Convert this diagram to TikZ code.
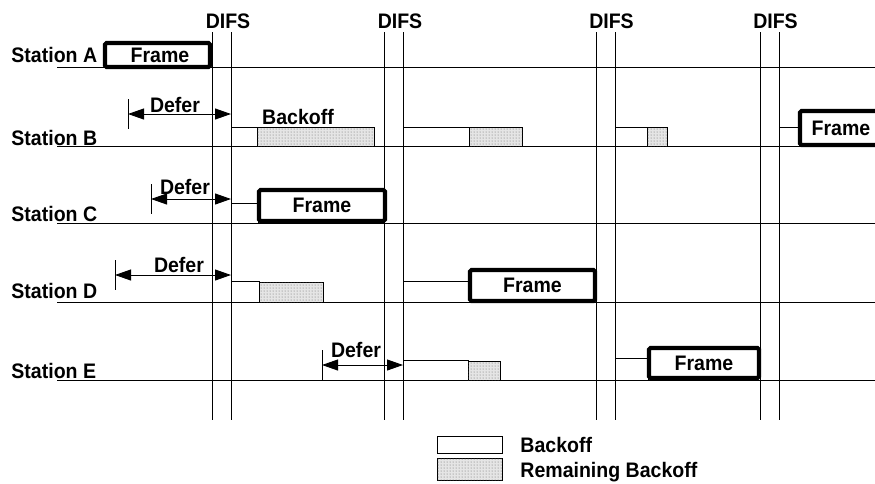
\documentclass[tikz,border=0pt]{standalone}
\usepackage{fontspec}
\setmainfont{Liberation Sans}[FakeStretch=0.93]
\usetikzlibrary{arrows.meta,patterns}
\begin{document}
\begin{tikzpicture}[x=1pt,y=-1pt, line width=0.9pt,
  lbl/.style={font=\fontsize{21}{21}\selectfont\bfseries, inner sep=0pt},
  frame/.style={draw, line width=4.2pt, rounded corners=1.5pt, fill=white, inner sep=0pt, font=\fontsize{21}{21}\selectfont\bfseries},
  bo/.style={draw, fill=white, line width=0.8pt},
  rbo/.style={draw, line width=0.8pt, fill=black!10, postaction={pattern=dots, pattern color=black!60}},
  defer/.style={{Triangle[length=16pt,width=11pt]}-{Triangle[length=16pt,width=11pt]}, line width=0.9pt},
  tick/.style={line width=0.9pt},
]
\useasboundingbox (0,0) rectangle (875,483);
\clip (0,0) rectangle (875,483);

% station lines
\foreach \y in {67,146,223,302,380} \draw (57,\y) -- (875,\y);
% DIFS lines
\foreach \x in {212,231,384,403,596,615,760,779} \draw (\x,32) -- (\x,420);

% DIFS labels
\node[lbl, anchor=base] (d1) at (228,28) {DIFS};
\node[lbl, anchor=base] (d2) at (400,28) {DIFS};
\node[lbl, anchor=base] (d3) at (611.5,28) {DIFS};
\node[lbl, anchor=base] (d4) at (775.5,28) {DIFS};

% station labels
\node[lbl, anchor=base west] (sa) at (11,62) {Station A};
\node[lbl, anchor=base west] (sb) at (11,145) {Station B};
\node[lbl, anchor=base west] (sc) at (11,221.5) {Station C};
\node[lbl, anchor=base west] (sd) at (11,298) {Station D};
\node[lbl, anchor=base west] (se) at (11,378) {Station E};

% Station A
\node[frame, minimum width=105, minimum height=24] (fa) at (157.5,55) {\hspace{5pt}Frame};

% Station B
\coordinate (b0) at (128,114);
\coordinate (b1) at (231,114);
\draw[tick] ([yshift=15pt]b0) -- ([yshift=-15pt]b0);
\draw[tick] ([yshift=15pt]b1) -- (b1);
\draw[defer] (b0) -- (b1);
\node[lbl, anchor=base] (tb) at (175,112) {Defer};
\draw[bo] (231,127) rectangle (257,146);
\draw[rbo] (257,127) rectangle (374,146);
\node[lbl, anchor=base] (bk) at (298,124) {Backoff};
\draw[bo] (403,127) rectangle (469,146);
\draw[rbo] (469,127) rectangle (522,146);
\draw[bo] (615,127) rectangle (647,146);
\draw[rbo] (647,127) rectangle (667,146);
\draw[bo] (779,127) rectangle (799,146);
\node[frame, minimum width=82, minimum height=34] (fb) at (841,128) {Frame};

% Station C
\coordinate (c0) at (151,199);
\coordinate (c1) at (231,199);
\draw[tick] ([yshift=15pt]c0) -- ([yshift=-15pt]c0);
\draw[tick] ([yshift=15pt]c1) -- (c1);
\draw[defer] (c0) -- (c1);
\node[lbl, anchor=base] (tc) at (185,194) {Defer};
\draw[bo] (231,203) rectangle (258,223);
\node[frame, minimum width=126, minimum height=31] (fc) at (322,205.5) {Frame};

% Station D
\coordinate (e0) at (115,275);
\coordinate (e1) at (231,275);
\draw[tick] ([yshift=15pt]e0) -- ([yshift=-15pt]e0);
\draw[tick] ([yshift=15pt]e1) -- (e1);
\draw[defer] (e0) -- (e1);
\node[lbl, anchor=base] (td) at (179,272) {Defer};
\draw[bo] (231,281) rectangle (259,302);
\draw[rbo] (259,282) rectangle (323,302);
\draw[bo] (403,281) rectangle (470,302);
\node[frame, minimum width=125, minimum height=31] (fd) at (532.5,285.5) {Frame};

% Station E
\coordinate (g0) at (322,365);
\coordinate (g1) at (403,365);
\draw[tick] ([yshift=15pt]g0) -- ([yshift=-15pt]g0);
\draw[tick] ([yshift=15pt]g1) -- (g1);
\draw[defer] (g0) -- (g1);
\node[lbl, anchor=base] (te) at (356,357) {Defer};
\draw[bo] (403,360) rectangle (468,380);
\draw[rbo] (468,361) rectangle (500,380);
\draw[bo] (615,358) rectangle (648,380);
\node[frame, minimum width=110, minimum height=30] (fe) at (704,363) {Frame};

% legend
\draw[bo] (437,436) rectangle (502,453);
\draw[rbo] (437,458) rectangle (502,480);
\node[lbl, anchor=base west] (l1) at (520,452) {Backoff};
\node[lbl, anchor=base west] (l2) at (520,477) {Remaining Backoff};
\end{tikzpicture}
\end{document}
